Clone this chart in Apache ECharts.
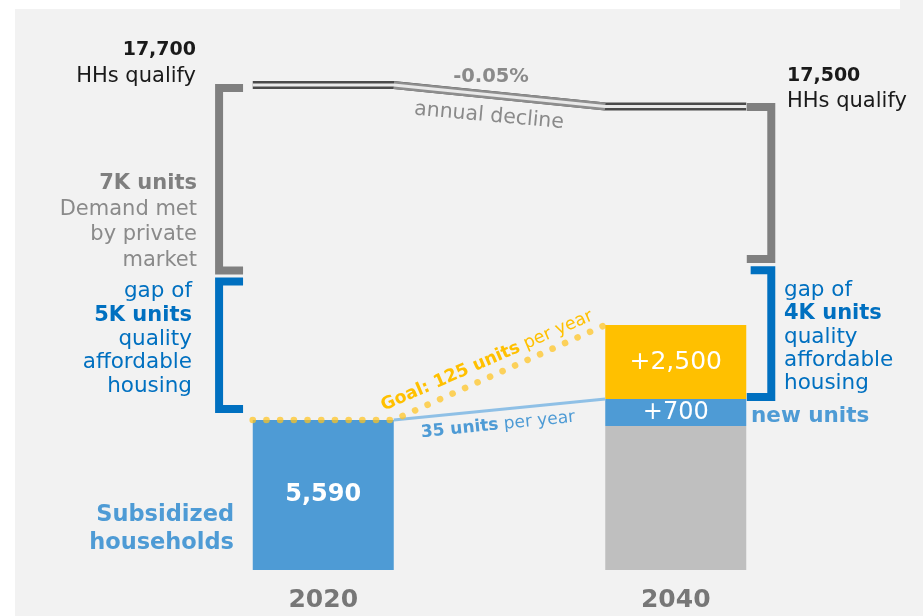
<!DOCTYPE html>
<html><head><meta charset="utf-8">
<script src="https://cdn.jsdelivr.net/npm/echarts@6/dist/echarts.min.js"></script>
<style>html,body{margin:0;padding:0;background:#fff}#c{width:923px;height:616px}</style>
</head><body><div id="c"></div>
<script>
// ---- data (on the chart's own scale) ----
const years = ['2020', '2040'];
const baseUnits = [5590, 5370];   // subsidized households 2020 / existing stock 2040
const newUnits = [0, 1000];       // "+700" segment
const goalUnits = [0, 2760];      // "+2,500" segment
const baseLabels = ['5,590', ''];
const newLabels = ['', '+700'];
const goalLabels = ['', '+2,500'];
// households that qualify (drawn levels), 2016-2044
const qualifyX = [2016, 2024, 2036, 2044];
const qualifyY = [18070, 18070, 17270, 17270];
// goal line (125 units / year) and current trend (35 units / year)
const goalLineX = [2016, 2024, 2036];
const goalLineY = [5590, 5590, 9130];
const trendX = [2024, 2036];
const trendY = [5590, 6370];
// bracket ranges [top, bottom]
const leftGray = [17960, 11160];
const leftBlue = [10750, 6000];
const rightGray = [17250, 11590];
const rightBlue = [11170, 6450];

const FF = '"DejaVu Sans", sans-serif';
const BLUE = '#4e9bd5', DBLUE = '#0070c0', YEL = '#ffc000', GRAY = '#808080';

const zip = (xs, ys) => xs.map((x, i) => [x, ys[i]]);

function bracket(xArmTop, xArmBot, xv, range, color) {
  return { coords: [[xArmTop, range[0]], [xv, range[0]], [xv, range[1]], [xArmBot, range[1]]],
           lineStyle: { color: color, width: 8, opacity: 1 } };
}

function txt(x, y, text, size, weight, color, align, extra) {
  const e = { type: 'text', x: x, y: y, z: 100,
    style: { text: text, font: weight + ' ' + size + 'px ' + FF, fontSize: size, fontWeight: weight, fontFamily: FF,
             fill: color, textAlign: align, align: align, textVerticalAlign: 'middle', verticalAlign: 'middle' } };
  if (extra) Object.assign(e, extra);
  return e;
}
function richTxt(x, y, bold, reg, size, color, rot) {
  return { type: 'text', x: x, y: y, rotation: rot, z: 100,
    style: { text: '{b|' + bold + '} {r|' + reg + '}', textAlign: 'center', align: 'center',
      textVerticalAlign: 'middle', verticalAlign: 'middle', fill: color,
      font: size + 'px ' + FF, fontSize: size, fontFamily: FF,
      rich: {
        b: { font: 'bold ' + size + 'px ' + FF, fontWeight: 'bold', fontSize: size, fontFamily: FF, fill: color },
        r: { font: 'normal ' + size + 'px ' + FF, fontWeight: 'normal', fontSize: size, fontFamily: FF, fill: color }
      } } };
}

const graphics = [
  { type: 'rect', shape: { x: 0, y: 0, width: 15, height: 616 }, style: { fill: '#fff' }, z: -10 },
  { type: 'rect', shape: { x: 0, y: 0, width: 900, height: 9 }, style: { fill: '#fff' }, z: -10 },
  txt(196, 50, '17,700', 19, 'bold', '#1a1a1a', 'right'),
  txt(196, 77, 'HHs qualify', 21, 'normal', '#1a1a1a', 'right'),
  txt(787, 76, '17,500', 19, 'bold', '#1a1a1a', 'left'),
  txt(787, 102, 'HHs qualify', 21, 'normal', '#1a1a1a', 'left'),
  txt(491, 77, '-0.05%', 19.5, 'bold', '#8a8a8a', 'center'),
  txt(489, 116, 'annual decline', 20.5, 'normal', '#8a8a8a', 'center', { rotation: -0.09 }),
  txt(197, 184, '7K units', 21, 'bold', '#7f7f7f', 'right'),
  txt(197, 210, 'Demand met', 21, 'normal', '#8a8a8a', 'right'),
  txt(197, 235, 'by private', 21, 'normal', '#8a8a8a', 'right'),
  txt(197, 261, 'market', 21, 'normal', '#8a8a8a', 'right'),
  txt(192, 291, 'gap of', 21.5, 'normal', DBLUE, 'right'),
  txt(192, 316, '5K units', 21, 'bold', DBLUE, 'right'),
  txt(192, 339, 'quality', 21.5, 'normal', DBLUE, 'right'),
  txt(192, 362, 'affordable', 21.5, 'normal', DBLUE, 'right'),
  txt(192, 386, 'housing', 21.5, 'normal', DBLUE, 'right'),
  txt(784, 290, 'gap of', 21.5, 'normal', DBLUE, 'left'),
  txt(784, 314, '4K units', 21, 'bold', DBLUE, 'left'),
  txt(784, 337, 'quality', 21.5, 'normal', DBLUE, 'left'),
  txt(784, 360, 'affordable', 21.5, 'normal', DBLUE, 'left'),
  txt(784, 383, 'housing', 21.5, 'normal', DBLUE, 'left'),
  txt(751, 416, 'new units', 21.5, 'bold', BLUE, 'left'),
  txt(234, 515, 'Subsidized', 22.5, 'bold', BLUE, 'right'),
  txt(234, 543, 'households', 22.5, 'bold', BLUE, 'right'),
  richTxt(487, 361, 'Goal: 125 units', 'per year', 17.5, YEL, 0.41),
  richTxt(498, 425, '35 units', 'per year', 17, BLUE, 0.10)
];

const barLabel = (arr, weight, size) => ({ show: true, position: 'inside', color: '#fff',
  fontFamily: FF, fontWeight: weight, fontSize: size, formatter: p => arr[p.dataIndex] });

const option = {
  backgroundColor: '#f2f2f2',
  animation: false,
  grid: { left: 147, right: 71, top: 33.333, bottom: 46 },
  xAxis: [
    { type: 'category', data: years, boundaryGap: true,
      axisLine: { show: false }, axisTick: { show: false }, splitLine: { show: false },
      axisLabel: { color: '#777', fontSize: 25, fontWeight: 'bold', fontFamily: FF, margin: 18 } },
    { type: 'value', min: 2010, max: 2050, interval: 10, show: false }
  ],
  yAxis: { type: 'value', min: 0, max: 20000, show: false },
  graphic: graphics,
  series: [
    { type: 'bar', stack: 'all', barWidth: 141, z: 2, xAxisIndex: 0,
      data: baseUnits.map((v, i) => ({ value: v, itemStyle: { color: i === 0 ? BLUE : '#bfbfbf' } })),
      label: barLabel(baseLabels, 'bold', 24) },
    { type: 'bar', stack: 'all', barWidth: 141, z: 2, xAxisIndex: 0, itemStyle: { color: BLUE },
      data: newUnits, label: barLabel(newLabels, 'normal', 24) },
    { type: 'bar', stack: 'all', barWidth: 141, z: 2, xAxisIndex: 0, itemStyle: { color: YEL },
      data: goalUnits, label: barLabel(goalLabels, 'normal', 25) },
    // trend line 35 units per year
    { type: 'line', xAxisIndex: 1, data: zip(trendX, trendY), symbol: 'none', z: 4, silent: true,
      lineStyle: { color: '#8fc0e6', width: 3 } },
    // goal dotted line
    { type: 'line', xAxisIndex: 1, data: zip(goalLineX, goalLineY), symbol: 'none', z: 5, silent: true,
      lineStyle: { color: 'rgba(255,196,30,0.72)', width: 6.6, type: [0.001, 13.7], cap: 'round' } },
    // qualifying households double line
    { type: 'lines', coordinateSystem: 'cartesian2d', xAxisIndex: 1, polyline: true, z: 4, silent: true,
      lineStyle: { width: 8, opacity: 1, curveness: 0, join: 'miter', cap: 'butt' },
      data: [{ coords: zip(qualifyX, qualifyY), lineStyle: { color: '#4a4a4a', width: 8, opacity: 1 } }] },
    { type: 'lines', coordinateSystem: 'cartesian2d', xAxisIndex: 1, polyline: false, z: 5, silent: true,
      lineStyle: { width: 8, opacity: 1, curveness: 0, cap: 'butt' },
      data: [{ coords: [zip(qualifyX, qualifyY)[1], zip(qualifyX, qualifyY)[2]], lineStyle: { color: '#8e8e8e', width: 8, opacity: 1 } }] },
    { type: 'lines', coordinateSystem: 'cartesian2d', xAxisIndex: 1, polyline: true, z: 6, silent: true,
      lineStyle: { width: 3, opacity: 1, curveness: 0, join: 'miter', cap: 'butt' },
      data: [{ coords: zip(qualifyX, qualifyY), lineStyle: { color: '#e9e9e9', width: 3, opacity: 1 } }] },
    // brackets
    { type: 'lines', coordinateSystem: 'cartesian2d', xAxisIndex: 1, polyline: true, z: 4, silent: true,
      lineStyle: { width: 8, opacity: 1, curveness: 0, join: 'miter', cap: 'butt' },
      data: [
        bracket(2015.45, 2015.45, 2014.09, leftGray, GRAY),
        bracket(2015.45, 2015.45, 2014.09, leftBlue, DBLUE),
        bracket(2044.03, 2044.03, 2045.42, rightGray, GRAY),
        bracket(2044.25, 2044.03, 2045.42, rightBlue, DBLUE)
      ] }
  ]
};
echarts.init(document.getElementById('c')).setOption(option);
</script></body></html>
